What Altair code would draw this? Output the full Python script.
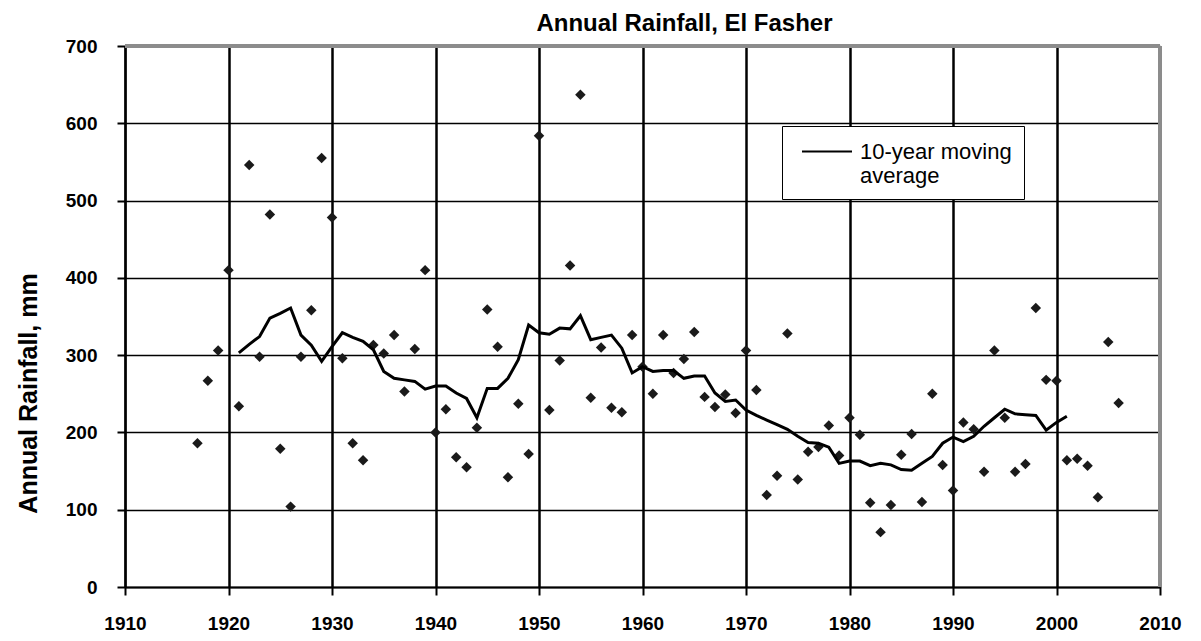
import altair as alt
import pandas as pd

# ---- data ----
years = list(range(1917, 2007))
rainfall = [186, 267, 306, 410, 234, 546, 298, 482, 179, 104,
            298, 358, 555, 478, 296, 186, 164, 313, 302, 326,
            253, 308, 410, 200, 230, 168, 155, 206, 359, 311,
            142, 237, 172, 584, 229, 293, 416, 637, 245, 310,
            232, 226, 326, 285, 250, 326, 277, 295, 330, 246,
            233, 249, 225, 306, 255, 119, 144, 328, 139, 175,
            181, 209, 170, 219, 197, 109, 71, 106, 171, 198,
            110, 250, 158, 125, 213, 204, 149, 306, 219, 149,
            159, 361, 268, 267, 164, 166, 157, 116, 317, 238]

ma_years = list(range(1921, 2002))
ma_values = [303, 314, 324, 348, 354, 361, 326, 313, 292, 311,
             329, 323, 318, 307, 279, 270, 268, 266, 256, 260,
             260, 251, 244, 219, 257, 257, 270, 294, 339, 329,
             327, 335, 334, 351, 320, 323, 326, 309, 277, 285,
             279, 280, 280, 270, 273, 273, 251, 240, 242, 229,
             222, 216, 210, 204, 195, 187, 186, 181, 160, 163,
             163, 157, 160, 158, 152, 151, 160, 169, 186, 194,
             188, 195, 208, 219, 230, 224, 223, 222, 203, 213,
             221]
ma_name = "10-year moving average"
ma_label_lines = ["10-year moving", "average"]

x_ticks = [1910, 1920, 1930, 1940, 1950, 1960, 1970, 1980, 1990, 2000, 2010]
y_ticks = [0, 100, 200, 300, 400, 500, 600, 700]

title_text = "Annual Rainfall, El Fasher"
y_title = "Annual Rainfall, mm"

pts = pd.DataFrame({"year": years, "rain": rainfall})
ma = pd.DataFrame({"year": ma_years, "rain": ma_values,
                   "series": [ma_name] * len(ma_years)})

W, H = 1035, 541
FONT = "Liberation Sans"

x_enc = alt.X("year:Q",
              scale=alt.Scale(domain=[1910, 2010], nice=False, zero=False),
              axis=alt.Axis(values=x_ticks, format="d", title=None,
                            grid=True, gridColor="black", gridWidth=2.5,
                            domainColor="black", domainWidth=2,
                            tickColor="black", tickWidth=2, tickSize=8,
                            labelFont=FONT, labelFontSize=19, labelFontWeight="bold",
                            labelColor="black", labelPadding=19,
                            labelFlush=False, labelOverlap=False))
y_enc = alt.Y("rain:Q",
              scale=alt.Scale(domain=[0, 700], nice=False, zero=True),
              axis=alt.Axis(values=y_ticks, title=y_title,
                            grid=True, gridColor="black", gridWidth=1.5,
                            domainColor="black", domainWidth=2,
                            tickColor="black", tickWidth=2, tickSize=8,
                            labelFont=FONT, labelFontSize=19, labelFontWeight="bold",
                            labelColor="black", labelPadding=20,
                            labelFlush=False, labelOverlap=False,
                            titleFont=FONT, titleFontSize=25, titleFontWeight="bold",
                            titleColor="black", titleX=-97, titleY=347,
                            titleAlign="center", titleBaseline="middle",
                            titleAngle=270))

points = alt.Chart(pts).mark_point(shape="diamond", filled=True, size=110,
                                   color="#1a1a1a", opacity=1).encode(x=x_enc, y=y_enc)

label_expr = "[" + ", ".join("'" + s + "'" for s in ma_label_lines) + "]"

line = alt.Chart(ma).mark_line(strokeWidth=3).encode(
    x=x_enc, y=y_enc,
    color=alt.Color("series:N", scale=alt.Scale(range=["black"]),
                    legend=alt.Legend(orient="none", legendX=657, legendY=80,
                                      title=None, symbolType="M-2,0L2,0",
                                      symbolSize=625, symbolStrokeWidth=2,
                                      symbolStrokeColor="black", symbolOffset=19.5,
                                      labelFont=FONT, labelFontSize=22,
                                      labelColor="black", labelOffset=19.5,
                                      labelLimit=300,
                                      labelExpr=label_expr,
                                      strokeColor="black", fillColor="white",
                                      padding=12))
)

top_border = alt.Chart(pts).mark_rule(color="#8c8c8c", strokeWidth=3).encode(
    x=alt.value(0), x2=alt.value(W), y=alt.value(0))
right_border = alt.Chart(pts).mark_rule(color="#8c8c8c", strokeWidth=3).encode(
    x=alt.value(W), y=alt.value(0), y2=alt.value(H))

chart = alt.layer(points, line, top_border, right_border).properties(
    width=W, height=H,
    padding={"left": 117, "top": 38, "right": 28, "bottom": 50},
    autosize=alt.AutoSizeParams(type="none"),
    title=alt.Title(title_text, font=FONT, fontSize=24, fontWeight="bold",
                    color="black", anchor="middle", dx=42, offset=1),
).configure_view(stroke=None)

chart.save("out.html", embed_options={"renderer": "svg", "actions": False})
